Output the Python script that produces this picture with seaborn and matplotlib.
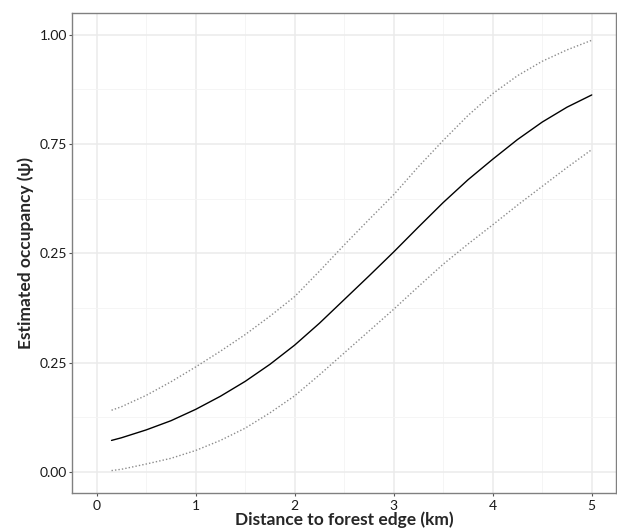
import pandas as pd
import matplotlib.pyplot as plt
from matplotlib.ticker import MultipleLocator
import seaborn as sns

# values
distance = [0.15, 0.25, 0.5, 0.75, 1.0, 1.25, 1.5, 1.75, 2.0, 2.25, 2.5,
            2.75, 3.0, 3.25, 3.5, 3.75, 4.0, 4.25, 4.5, 4.75, 5.0]
psi_mean = [0.072, 0.078, 0.096, 0.117, 0.143, 0.173, 0.207, 0.246, 0.290, 0.340, 0.394,
            0.448, 0.503, 0.560, 0.616, 0.668, 0.715, 0.760, 0.800, 0.834, 0.862]
psi_upper = [0.141, 0.149, 0.175, 0.206, 0.240, 0.276, 0.314, 0.356, 0.401, 0.459, 0.519,
             0.577, 0.634, 0.698, 0.758, 0.815, 0.865, 0.906, 0.939, 0.965, 0.987]
psi_lower = [0.003, 0.006, 0.018, 0.031, 0.049, 0.072, 0.100, 0.135, 0.174, 0.222, 0.272,
             0.322, 0.372, 0.424, 0.475, 0.521, 0.565, 0.610, 0.653, 0.696, 0.737]

x_ticks = [0, 1, 2, 3, 4, 5]
y_ticks = [0.0, 0.25, 0.5, 0.75, 1.0]
y_tick_labels = ["0.00", "0.25", "0.25", "0.75", "1.00"]  # as printed in the original

df = pd.DataFrame({
    "distance": distance * 3,
    "psi": psi_mean + psi_upper + psi_lower,
    "series": ["mean"] * len(distance) + ["upper"] * len(distance) + ["lower"] * len(distance),
})

sns.set_style("white")
plt.rcParams["font.family"] = ["Lato", "DejaVu Sans"]

fig = plt.figure(figsize=(6.17, 5.30), dpi=100)
ax = fig.add_axes([0.1172, 0.0692, 0.8812, 0.9068])

sns.lineplot(data=df[df.series == "mean"], x="distance", y="psi", color="black",
             linewidth=1.0, ax=ax)
for s in ["upper", "lower"]:
    sns.lineplot(data=df[df.series == s], x="distance", y="psi", color="#8c8c8c",
                 linewidth=1.0, linestyle=(0, (1, 1.5)), ax=ax)

ax.set_xlim(-0.246, 5.245)
ax.set_ylim(-0.049, 1.05)
ax.set_xticks(x_ticks)
ax.set_yticks(y_ticks)
ax.set_yticklabels(y_tick_labels)
ax.xaxis.set_minor_locator(MultipleLocator(0.5))
ax.yaxis.set_minor_locator(MultipleLocator(0.125))

ax.grid(which="major", color="#ebebeb", linewidth=1.1)
ax.grid(which="minor", color="#f4f4f4", linewidth=0.6)
ax.set_axisbelow(True)
for sp in ax.spines.values():
    sp.set_color("#808080")
    sp.set_linewidth(1.0)

ax.tick_params(which="major", direction="out", length=2.5, width=0.8, color="#555555",
               labelsize=10, labelcolor="#1a1a1a", bottom=True, left=True)
ax.tick_params(axis="x", pad=2)
ax.tick_params(axis="y", pad=1.2)
ax.tick_params(which="minor", length=0)

ax.set_xlabel("Distance to forest edge (km)", fontsize=12.5, fontweight="bold", labelpad=0)
ax.set_ylabel("Estimated occupancy (\u03c8)", fontsize=12.5, fontweight="bold", labelpad=4)

fig.savefig("out.png", dpi=100)
plt.close(fig)
